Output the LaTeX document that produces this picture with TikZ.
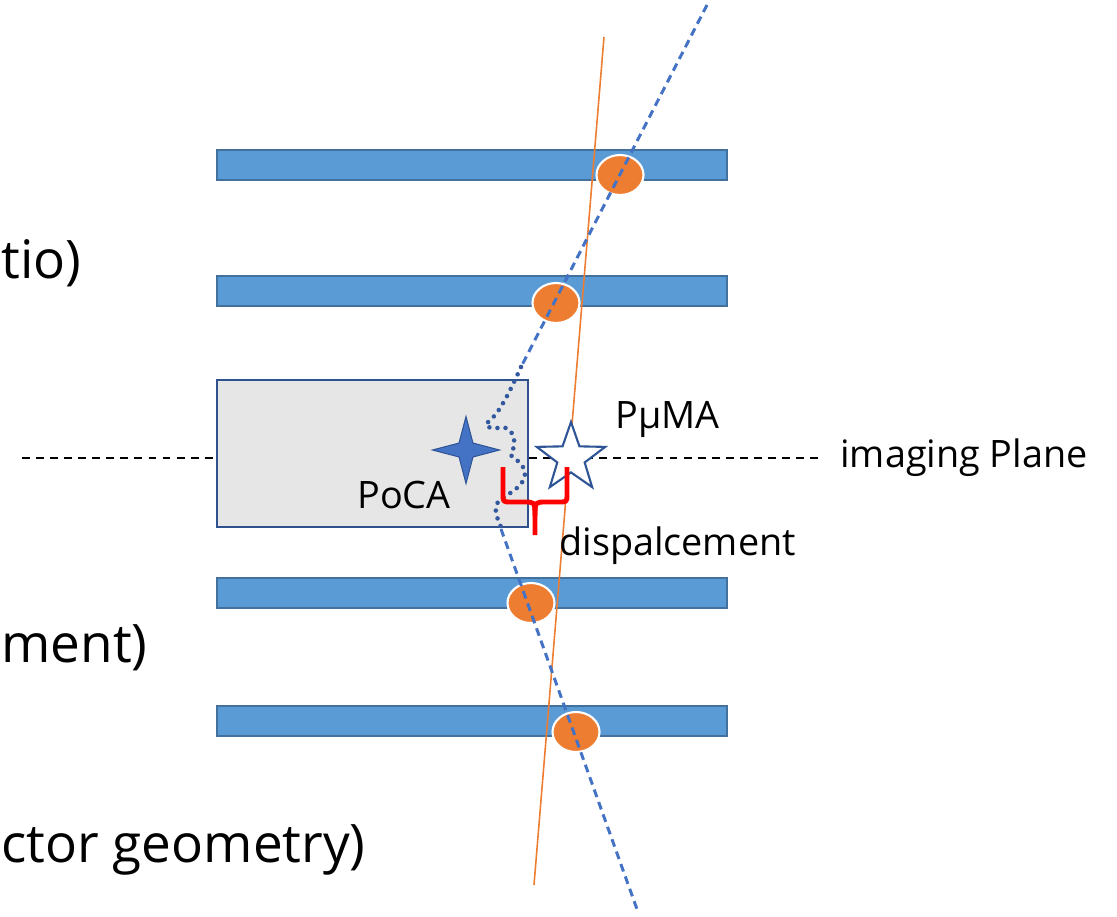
\documentclass[tikz,border=0pt]{standalone}
\usepackage{fontspec}
\setmainfont{Open Sans}
\usetikzlibrary{shapes.geometric}
\definecolor{barfill}{HTML}{5B9BD5}
\definecolor{barline}{HTML}{41719C}
\definecolor{orng}{HTML}{ED7D31}
\definecolor{trackblue}{HTML}{4472C4}
\definecolor{dotblue}{HTML}{34589E}
\definecolor{boxfill}{HTML}{E7E6E6}
\definecolor{boxline}{HTML}{2F528F}
\definecolor{starline}{HTML}{2F5597}
\tikzset{
  detbar/.style={draw=barline, fill=barfill, line width=1.2pt},
  hit/.style={ellipse, fill=orng, draw=white, line width=1.2pt, minimum width=0.94cm, minimum height=0.8cm, inner sep=0pt},
  bigtxt/.style={font=\fontsize{30.2}{36}\selectfont, inner sep=0pt},
  smalltxt/.style={font=\fontsize{21.5}{25}\selectfont, inner sep=0pt},
  planeline/.style={black, line width=0.9pt, dash pattern=on 4.5pt off 3.5pt},
  track/.style={trackblue, line width=1.7pt, dash pattern=on 4.5pt off 3pt},
  scatter/.style={dotblue, line width=2.6pt, line cap=round, dash pattern=on 0pt off 4.6pt},
  brace/.style={red, line width=2.8pt, line join=round},
}
\begin{document}
\begin{tikzpicture}[x=0.02cm,y=-0.02cm]
\useasboundingbox (0,0) rectangle (1117,917);
% detector planes
\draw[detbar] (217,150) rectangle (727,180);
\draw[detbar] (217,276) rectangle (727,306);
\draw[detbar] (217,578) rectangle (727,608);
\draw[detbar] (217,706) rectangle (727,736);
% object box
\node[draw=boxline, fill=boxfill, line width=1.2pt, minimum width=6.22cm, minimum height=2.94cm, inner sep=0pt] (obj) at (372.5,453.5) {};
% imaging plane
\node[smalltxt, anchor=west] (plane) at (840,458) {imaging Plane};
\coordinate (pl0) at (22,458);
\coordinate (pl1) at (822,458);
\draw[planeline] (pl0) -- (obj.west |- pl0);
\draw[planeline] (obj.east |- pl0) -- (pl1);
% hits
\node[hit] (h1) at (620,175) {};
\node[hit] (h2) at (556,303) {};
\node[hit] (h3) at (531,603) {};
\node[hit] (h4) at (576,732) {};
% straight orange line
\coordinate (otop) at (604,37);
\coordinate (obot) at (534,885);
\draw[orng, line width=0.9pt] (otop) -- (obot);
% muon track
\coordinate (mtop) at (707,5);
\coordinate (min) at (521,367);
\coordinate (mout) at (501,529);
\coordinate (mbot) at (638,912);
\draw[track] (mtop) -- (min);
\draw[track] (mout) -- (mbot);
\draw[scatter] plot[smooth, tension=0.6] coordinates {(521,367) (514,382) (506,398) (496,414) (486,425) (494,428) (506,428) (513,435) (514,446) (511,455) (519,462) (525,472) (521,484) (509,494) (498,502) (496,513) (501,527)};
% stars
\node[star, star points=4, star point ratio=3.4, minimum size=1.34cm, inner sep=0pt, fill=trackblue, draw=starline, line width=0.6pt] (poca) at (466,450) {};
\node[star, star points=5, star point ratio=2.5, minimum size=1.44cm, inner sep=0pt, fill=white, draw=starline, line width=1.2pt] (puma) at (571,458) {};
% red brace
\coordinate (bl) at (503,467);
\coordinate (br) at (567,467);
\coordinate (bs) at (535,535);
\draw[brace] (bl) -- (503,494) .. controls (503,502) .. (511,502) -- (524,502) .. controls (535,502) .. (535,516) -- (bs);
\draw[brace] (br) -- (567,494) .. controls (567,502) .. (559,502) -- (546,502) .. controls (535,502) .. (535,516);
% labels
\node[smalltxt, anchor=base west] (lpuma) at (615,428) {PμMA};
\node[smalltxt, anchor=base west] (lpoca) at (357,508) {PoCA};
\node[smalltxt, anchor=base west] (ldisp) at (559,555) {dispalcement};
\node[bigtxt, anchor=base west] (t1) at (1,278) {tio)};
\node[bigtxt, anchor=base west] (t2) at (1,662) {ment)};
\node[bigtxt, anchor=base west] (t3) at (1,862) {ctor geometry)};
\end{tikzpicture}
\end{document}
